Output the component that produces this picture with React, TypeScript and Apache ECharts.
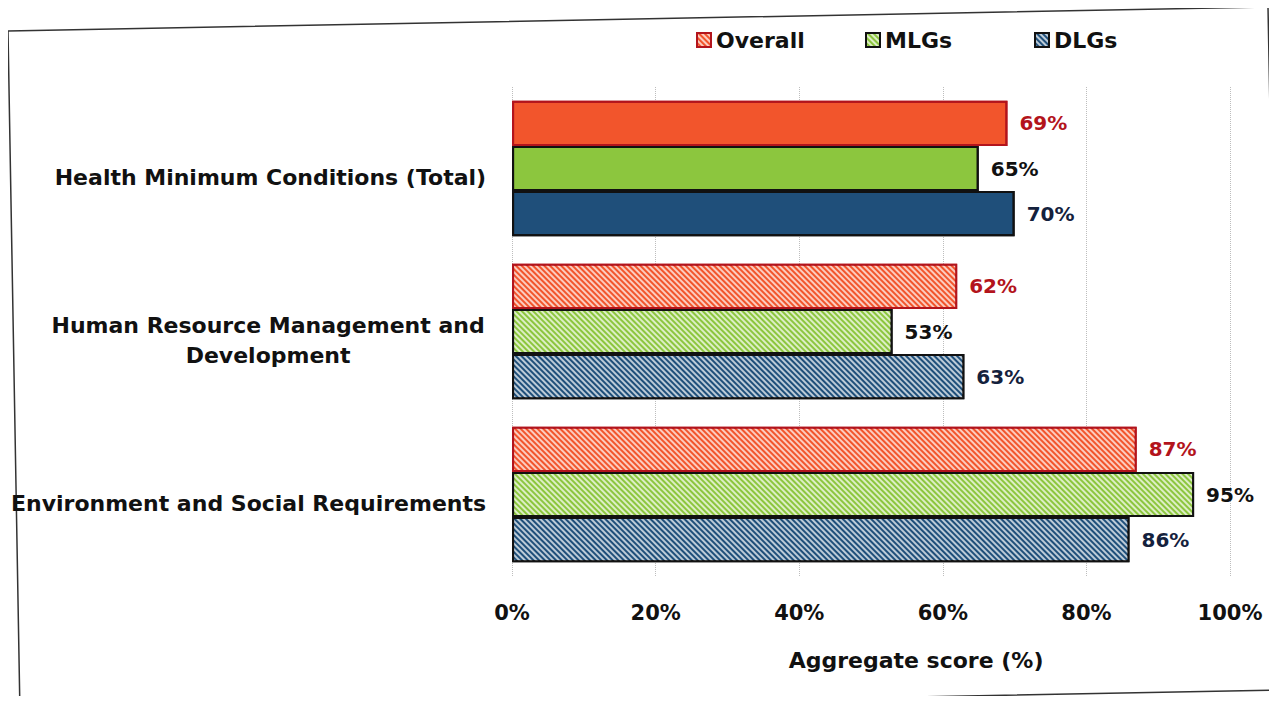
import React, { useEffect, useRef } from "react";
import * as echarts from "echarts";

const categories = [
  "Health Minimum Conditions (Total)",
  "Human Resource Management and\nDevelopment",
  "Environment and Social Requirements",
];
const seriesNames = ["Overall", "MLGs", "DLGs"];
const overallValues = [69, 62, 87];
const mlgValues = [65, 53, 95];
const dlgValues = [70, 63, 86];
const xTicks = [0, 20, 40, 60, 80, 100];

const FONT = "DejaVu Sans";

export default function App() {
  const ref = useRef<HTMLDivElement>(null);
  useEffect(() => {
    if (!ref.current) return;
    const chart = echarts.init(ref.current, null, { renderer: "svg" });

    const catSize = 22;
    const canvas = document.createElement("canvas");
    const ctx = canvas.getContext("2d")!;
    ctx.font = `bold ${catSize}px "${FONT}"`;
    const lineW = Math.ceil(ctx.measureText("Human Resource Management and").width) + 2;

    const hatch = (rot: number) => ({
      symbol: "rect",
      symbolSize: 1,
      color: "rgba(255,255,255,0.7)",
      dashArrayX: [1, 0],
      dashArrayY: [2, 2],
      rotation: rot,
    });

    const defs = [
      { name: seriesNames[0], values: overallValues, fill: "#f2552c", border: "#b3141c", label: "#b3141c", rot: Math.PI / 4 },
      { name: seriesNames[1], values: mlgValues, fill: "#8cc63e", border: "#111111", label: "#111111", rot: Math.PI / 4 },
      { name: seriesNames[2], values: dlgValues, fill: "#1f4f7a", border: "#111111", label: "#14213d", rot: Math.PI / 4 },
    ];

    const series = defs.map((d) => ({
      type: "bar",
      name: d.name,
      barGap: "0%",
      barCategoryGap: "17%",
      itemStyle: {
        color: d.fill,
        borderColor: d.border,
        borderWidth: 2,
        decal: hatch(d.rot),
      },
      label: {
        show: true,
        position: "right",
        distance: 12,
        formatter: "{c}%",
        color: d.label,
        fontFamily: FONT,
        fontWeight: "bold",
        fontSize: 20,
      },
      data: d.values.map((v, i) =>
        i === 0 ? { value: v, itemStyle: { decal: { symbol: "none" } } } : { value: v }
      ),
    }));

    const legendLefts = [683, 852, 1021];
    const legends = seriesNames.map((n, i) => ({
      top: 16,
      left: legendLefts[i],
      itemWidth: 14,
      itemHeight: 14,
      icon: "rect",
      data: [n],
      textStyle: { fontFamily: FONT, fontWeight: "bold", fontSize: 22, color: "#111" },
    }));

    chart.setOption({
      animation: false,
      textStyle: { fontFamily: FONT },
      legend: legends,
      grid: { left: 504, right: 39, top: 79, bottom: 120, containLabel: false },
      xAxis: {
        type: "value",
        min: xTicks[0],
        max: xTicks[xTicks.length - 1],
        interval: 20,
        axisLine: { show: false },
        axisTick: { show: false },
        splitLine: { show: true, lineStyle: { type: "dotted", color: "#bdbdbd", width: 1 } },
        axisLabel: {
          formatter: "{value}%",
          margin: 26,
          color: "#111",
          fontFamily: FONT,
          fontWeight: "bold",
          fontSize: 21,
        },
        name: "Aggregate score (%)",
        nameLocation: "middle",
        nameGap: 73,
        nameTextStyle: {
          color: "#111",
          fontFamily: FONT,
          fontWeight: "bold",
          fontSize: 22,
          padding: [0, 0, 0, 90],
        },
      },
      yAxis: {
        type: "category",
        inverse: true,
        data: categories,
        axisLine: { show: false },
        axisTick: { show: false },
        axisLabel: {
          margin: 26,
          color: "#111",
          fontFamily: FONT,
          fontWeight: "bold",
          fontSize: catSize,
          lineHeight: 30,
          padding: [18, 0, 0, 0],
          formatter: (v: string) => {
            if (v.indexOf("\n") >= 0) {
              return v
                .split("\n")
                .map((s) => `{c|${s}}`)
                .join("\n");
            }
            return v;
          },
          rich: {
            c: {
              width: lineW,
              align: "center",
              color: "#111",
              fontFamily: FONT,
              fontWeight: "bold",
              fontSize: catSize,
              lineHeight: 30,
            },
          },
        },
      },
      graphic: [
        {
          type: "polygon",
          shape: { points: [[0, 23], [1260, -1], [1273, 682], [12, 706]] },
          style: { fill: "none", stroke: "#333", lineWidth: 1.5 },
          silent: true,
          z: -1,
        },
      ],
      series,
    });

    return () => chart.dispose();
  }, []);

  return <div ref={ref} style={{ width: 1261, height: 688 }} />;
}
